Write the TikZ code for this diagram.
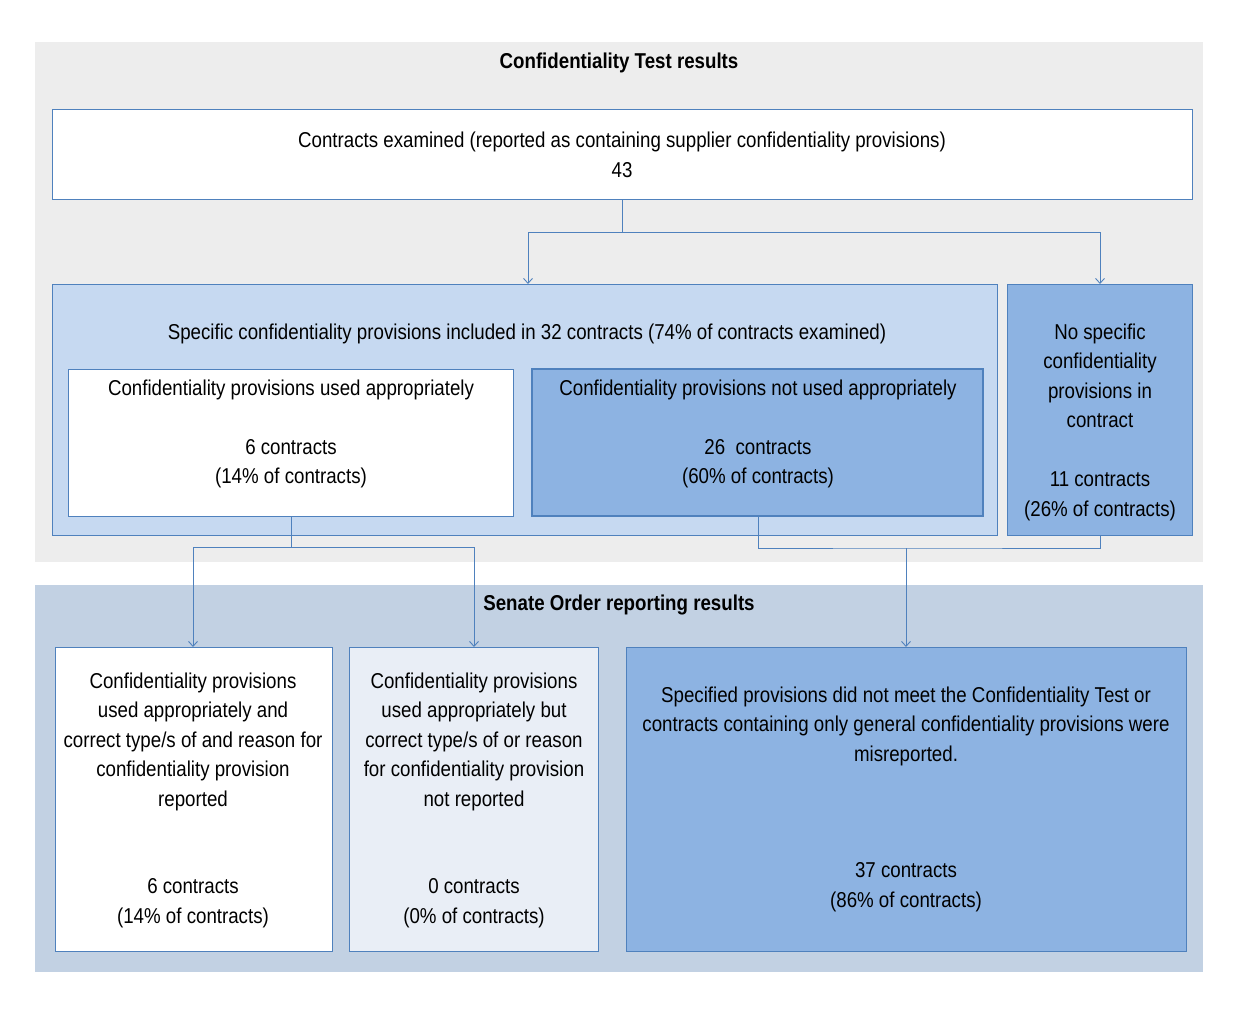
\documentclass[tikz,border=0pt]{standalone}
\usepackage{fontspec}
\setmainfont{Liberation Sans}[FakeStretch=0.87]
\usetikzlibrary{arrows.meta}
\definecolor{panel}{HTML}{EDEDED}
\definecolor{panelb}{HTML}{C2D1E3}
\definecolor{lb}{HTML}{C6D9F1}
\definecolor{mb}{HTML}{8DB3E2}
\definecolor{pb}{HTML}{E9EEF6}
\definecolor{ln}{HTML}{4F81BD}
\begin{document}
\begin{tikzpicture}[x=1pt,y=-1pt,
  box/.style={draw=ln,line width=0.9pt},
  txt/.style={align=center,font=\fontsize{21.5}{29.5}\selectfont},
  conn/.style={draw=ln,line width=0.9pt},
  arr/.style={conn,-{Straight Barb[length=5pt,width=9pt]}}]
\useasboundingbox (0,0) rectangle (1239,1015);
\fill[panel] (35,42) rectangle (1203,562);
\fill[panelb] (35,585) rectangle (1203,972);
\node[txt,font=\fontsize{21.5}{29.5}\selectfont\bfseries] (t1) at (619,63) {Confidentiality Test results};
\node[txt,font=\fontsize{21.5}{29.5}\selectfont\bfseries] (t2) at (619,605) {Senate Order reporting results};
\draw[box,fill=white] (52,109) rectangle (1192,199);
\node[txt] (top) at (622,155) {Contracts examined (reported as containing supplier confidentiality provisions)\\43};
\draw[box,fill=lb] (52,284) rectangle (997,535);
\node[txt] (spec) at (527,334) {Specific confidentiality provisions included in 32 contracts (74\% of contracts examined)};
\draw[box,fill=white] (68,369) rectangle (513,516);
\node[txt,anchor=north] (app) at (291,376) {Confidentiality provisions used appropriately\\[29.5pt]6 contracts\\(14\% of contracts)};
\draw[box,fill=mb,line width=2pt] (532,369) rectangle (983,516);
\node[txt,anchor=north] (napp) at (758,376) {Confidentiality provisions not used appropriately\\[29.5pt]26\ \ contracts\\(60\% of contracts)};
\draw[box,fill=mb] (1007,284) rectangle (1192,535);
\node[txt,anchor=north] (nospec) at (1100,320) {No specific\\confidentiality\\provisions in\\contract\\[29.5pt]11 contracts\\(26\% of contracts)};
\draw[box,fill=white] (55,647) rectangle (332,951);
\node[txt,anchor=north] (b1) at (193,669) {Confidentiality provisions\\used appropriately and\\correct type/s of and reason for\\confidentiality provision\\reported};
\node[txt,anchor=north] (b1n) at (193,875) {6 contracts\\(14\% of contracts)};
\draw[box,fill=pb] (349,647) rectangle (598,951);
\node[txt,anchor=north] (b2) at (474,669) {Confidentiality provisions\\used appropriately but\\correct type/s of or reason\\for confidentiality provision\\not reported};
\node[txt,anchor=north] (b2n) at (474,875) {0 contracts\\(0\% of contracts)};
\draw[box,fill=mb] (626,647) rectangle (1186,951);
\node[txt,anchor=north] (b3) at (906,683) {Specified provisions did not meet the Confidentiality Test or\\contracts containing only general confidentiality provisions were\\misreported.};
\node[txt,anchor=north] (b3n) at (906,859) {37 contracts\\(86\% of contracts)};
\coordinate (s1) at (622,199); \coordinate (s2) at (622,232);
\coordinate (aL) at (528,284); \coordinate (aR) at (1100,284);
\draw[conn] (s1) -- (s2);
\draw[arr] (s2) -| (aL);
\draw[arr] (s2) -| (aR);
\coordinate (p1) at (291,516); \coordinate (p2) at (291,547);
\draw[conn] (p1) -- (p2);
\draw[arr] (p2) -| (193,647);
\draw[arr] (p2) -| (474,647);
\coordinate (q1) at (758,516); \coordinate (q2) at (1100,535); \coordinate (q3) at (906,548);
\draw[conn] (q1) |- (q3) -| (q2);
\draw[arr] (q3) -- (906,647);
\end{tikzpicture}
\end{document}
